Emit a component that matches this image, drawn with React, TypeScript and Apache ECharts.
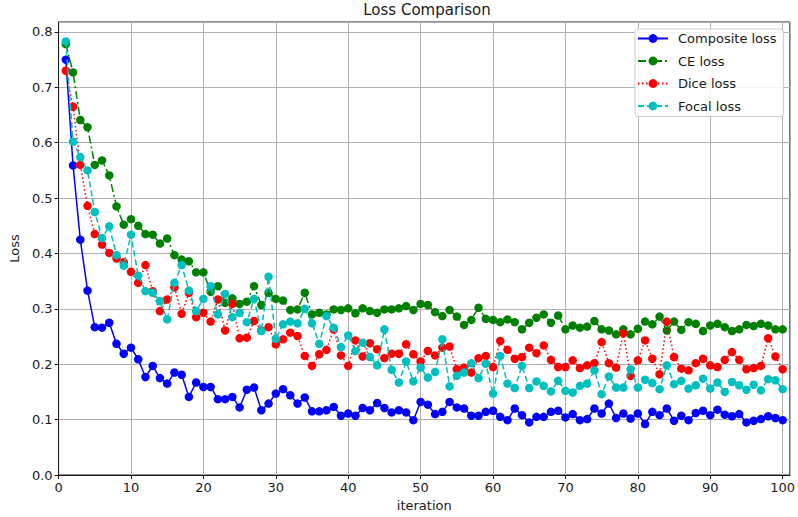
import React, { useEffect, useRef } from "react";
import * as echarts from "echarts";

const iterations: number[] = Array.from({ length: 100 }, (_, i) => i + 1);

const compositeLoss = [
  0.750, 0.559, 0.425, 0.333, 0.267, 0.266, 0.275, 0.237, 0.219, 0.230,
  0.209, 0.177, 0.197, 0.175, 0.165, 0.185, 0.181, 0.141, 0.167, 0.159,
  0.159, 0.137, 0.137, 0.141, 0.122, 0.154, 0.158, 0.117, 0.129, 0.147,
  0.155, 0.144, 0.129, 0.140, 0.115, 0.115, 0.117, 0.123, 0.107, 0.111,
  0.107, 0.121, 0.117, 0.130, 0.121, 0.113, 0.117, 0.113, 0.099, 0.132,
  0.127, 0.110, 0.114, 0.132, 0.122, 0.120, 0.107, 0.107, 0.114, 0.116,
  0.105, 0.099, 0.120, 0.108, 0.095, 0.105, 0.105, 0.114, 0.116, 0.104,
  0.110, 0.099, 0.101, 0.120, 0.111, 0.129, 0.103, 0.111, 0.102, 0.111,
  0.092, 0.114, 0.108, 0.120, 0.098, 0.107, 0.099, 0.112, 0.116, 0.108,
  0.118, 0.109, 0.106, 0.110, 0.095, 0.098, 0.101, 0.106, 0.103, 0.099,
];

const ceLoss = [
  0.778, 0.727, 0.641, 0.628, 0.560, 0.568, 0.541, 0.485, 0.452, 0.462,
  0.450, 0.435, 0.434, 0.418, 0.427, 0.397, 0.389, 0.386, 0.366, 0.366,
  0.331, 0.341, 0.311, 0.319, 0.309, 0.313, 0.341, 0.307, 0.329, 0.318,
  0.315, 0.298, 0.299, 0.329, 0.290, 0.293, 0.290, 0.299, 0.298, 0.301,
  0.292, 0.301, 0.296, 0.293, 0.299, 0.299, 0.301, 0.305, 0.298, 0.309,
  0.307, 0.294, 0.287, 0.298, 0.286, 0.271, 0.280, 0.302, 0.282, 0.280,
  0.276, 0.281, 0.276, 0.263, 0.275, 0.284, 0.290, 0.275, 0.288, 0.263,
  0.270, 0.266, 0.268, 0.278, 0.263, 0.261, 0.254, 0.263, 0.254, 0.264,
  0.277, 0.272, 0.286, 0.261, 0.277, 0.262, 0.276, 0.273, 0.260, 0.270,
  0.273, 0.267, 0.260, 0.263, 0.271, 0.269, 0.273, 0.270, 0.263, 0.263,
];

const diceLoss = [
  0.730, 0.665, 0.560, 0.486, 0.435, 0.416, 0.401, 0.391, 0.384, 0.367,
  0.347, 0.379, 0.332, 0.296, 0.317, 0.339, 0.291, 0.329, 0.285, 0.293,
  0.277, 0.317, 0.261, 0.309, 0.247, 0.248, 0.278, 0.261, 0.267, 0.236,
  0.245, 0.257, 0.251, 0.215, 0.197, 0.218, 0.226, 0.263, 0.216, 0.197,
  0.243, 0.214, 0.238, 0.227, 0.211, 0.219, 0.219, 0.236, 0.218, 0.205,
  0.224, 0.216, 0.230, 0.232, 0.191, 0.194, 0.185, 0.211, 0.215, 0.195,
  0.242, 0.226, 0.210, 0.213, 0.230, 0.220, 0.234, 0.208, 0.195, 0.195,
  0.207, 0.193, 0.198, 0.202, 0.240, 0.202, 0.194, 0.256, 0.179, 0.207,
  0.243, 0.210, 0.182, 0.277, 0.213, 0.192, 0.189, 0.202, 0.210, 0.198,
  0.195, 0.208, 0.222, 0.208, 0.191, 0.193, 0.197, 0.247, 0.214, 0.191,
];

const focalLoss = [
  0.783, 0.602, 0.574, 0.550, 0.475, 0.428, 0.449, 0.397, 0.378, 0.434,
  0.360, 0.332, 0.329, 0.314, 0.281, 0.347, 0.379, 0.333, 0.296, 0.318,
  0.341, 0.290, 0.327, 0.285, 0.293, 0.276, 0.318, 0.260, 0.358, 0.246,
  0.272, 0.277, 0.274, 0.300, 0.274, 0.237, 0.287, 0.266, 0.231, 0.252,
  0.224, 0.239, 0.213, 0.198, 0.263, 0.190, 0.167, 0.205, 0.169, 0.194,
  0.176, 0.186, 0.245, 0.160, 0.179, 0.185, 0.202, 0.175, 0.201, 0.147,
  0.215, 0.165, 0.157, 0.197, 0.157, 0.169, 0.161, 0.151, 0.170, 0.152,
  0.149, 0.161, 0.165, 0.189, 0.146, 0.178, 0.158, 0.158, 0.191, 0.158,
  0.172, 0.166, 0.155, 0.198, 0.164, 0.170, 0.156, 0.162, 0.174, 0.156,
  0.167, 0.150, 0.168, 0.162, 0.154, 0.163, 0.153, 0.173, 0.171, 0.155,
];

const seriesNames = ["Composite loss", "CE loss", "Dice loss", "Focal loss"];
const seriesColors = ["#0000ff", "#008000", "#ff0000", "#00bfbf"];
const seriesDash: any[] = ["solid", [8, 3, 2, 3], [1.5, 2.5], [6, 3]];
const seriesValues = [compositeLoss, ceLoss, diceLoss, focalLoss];

const FONT = "DejaVu Sans";

export default function App() {
  const ref = useRef<HTMLDivElement>(null);
  useEffect(() => {
    if (!ref.current) return;
    const chart = echarts.init(ref.current, undefined, { renderer: "svg" });
    chart.setOption({
      animation: false,
      backgroundColor: "#ffffff",
      title: {
        text: "Loss Comparison",
        left: 422,
        textAlign: "center",
        top: -3,
        textStyle: { fontFamily: FONT, fontSize: 15, fontWeight: "normal", color: "#1a1a1a" },
      },
      grid: {
        left: 52,
        right: 5,
        top: 22,
        bottom: 41,
        show: true,
        borderColor: "#1a1a1a",
        borderWidth: 1,
        backgroundColor: "transparent",
      },
      legend: {
        orient: "vertical",
        left: 635,
        top: 29,
        padding: [3, 7, 4, 2],
        itemWidth: 30,
        itemHeight: 11,
        itemGap: 9.5,
        backgroundColor: "rgba(255,255,255,0.85)",
        borderColor: "#cccccc",
        borderWidth: 1,
        borderRadius: 3,
        textStyle: { fontFamily: FONT, fontSize: 13, color: "#1a1a1a", padding: [0, 0, 0, 5] },
        data: seriesNames,
      },
      xAxis: {
        type: "value",
        min: 0,
        max: 101,
        interval: 10,
        name: "iteration",
        nameLocation: "middle",
        nameGap: 24,
        nameTextStyle: { fontFamily: FONT, fontSize: 13, color: "#1a1a1a" },
        axisLine: { onZero: false, lineStyle: { color: "#1a1a1a", width: 1 } },
        axisTick: { show: true, length: 4, lineStyle: { color: "#1a1a1a" } },
        axisLabel: {
          fontFamily: FONT,
          fontSize: 13,
          color: "#1a1a1a",
          margin: 6,
          showMaxLabel: false,
          formatter: (v: number) => (v % 10 === 0 ? String(v) : ""),
        },
        splitLine: { show: true, lineStyle: { color: "#b0b0b0", width: 1 } },
      },
      yAxis: {
        type: "value",
        min: 0,
        max: 0.818,
        interval: 0.1,
        name: "Loss",
        nameLocation: "middle",
        nameGap: 37,
        nameRotate: 90,
        nameTextStyle: { fontFamily: FONT, fontSize: 13, color: "#1a1a1a" },
        axisLine: { show: true, lineStyle: { color: "#1a1a1a", width: 1 } },
        axisTick: { show: true, length: 4, lineStyle: { color: "#1a1a1a" } },
        axisLabel: {
          fontFamily: FONT,
          fontSize: 13,
          color: "#1a1a1a",
          margin: 6,
          showMaxLabel: false,
          formatter: (v: number) => v.toFixed(1),
        },
        splitLine: { show: true, lineStyle: { color: "#b0b0b0", width: 1 } },
      },
      series: seriesValues.map((vals, k) => ({
        name: seriesNames[k],
        type: "line",
        data: vals.map((v, i) => [iterations[i], v]),
        symbol: "circle",
        symbolSize: 8.5,
        showSymbol: true,
        color: seriesColors[k],
        itemStyle: { color: seriesColors[k] },
        lineStyle: { color: seriesColors[k], width: 1.5, type: seriesDash[k] },
        z: 2 + k,
      })),
    });
    return () => chart.dispose();
  }, []);
  return (
    <div
      ref={ref}
      style={{ position: "fixed", left: 0, top: 0, width: 798, height: 517, background: "#fff" }}
    />
  );
}
